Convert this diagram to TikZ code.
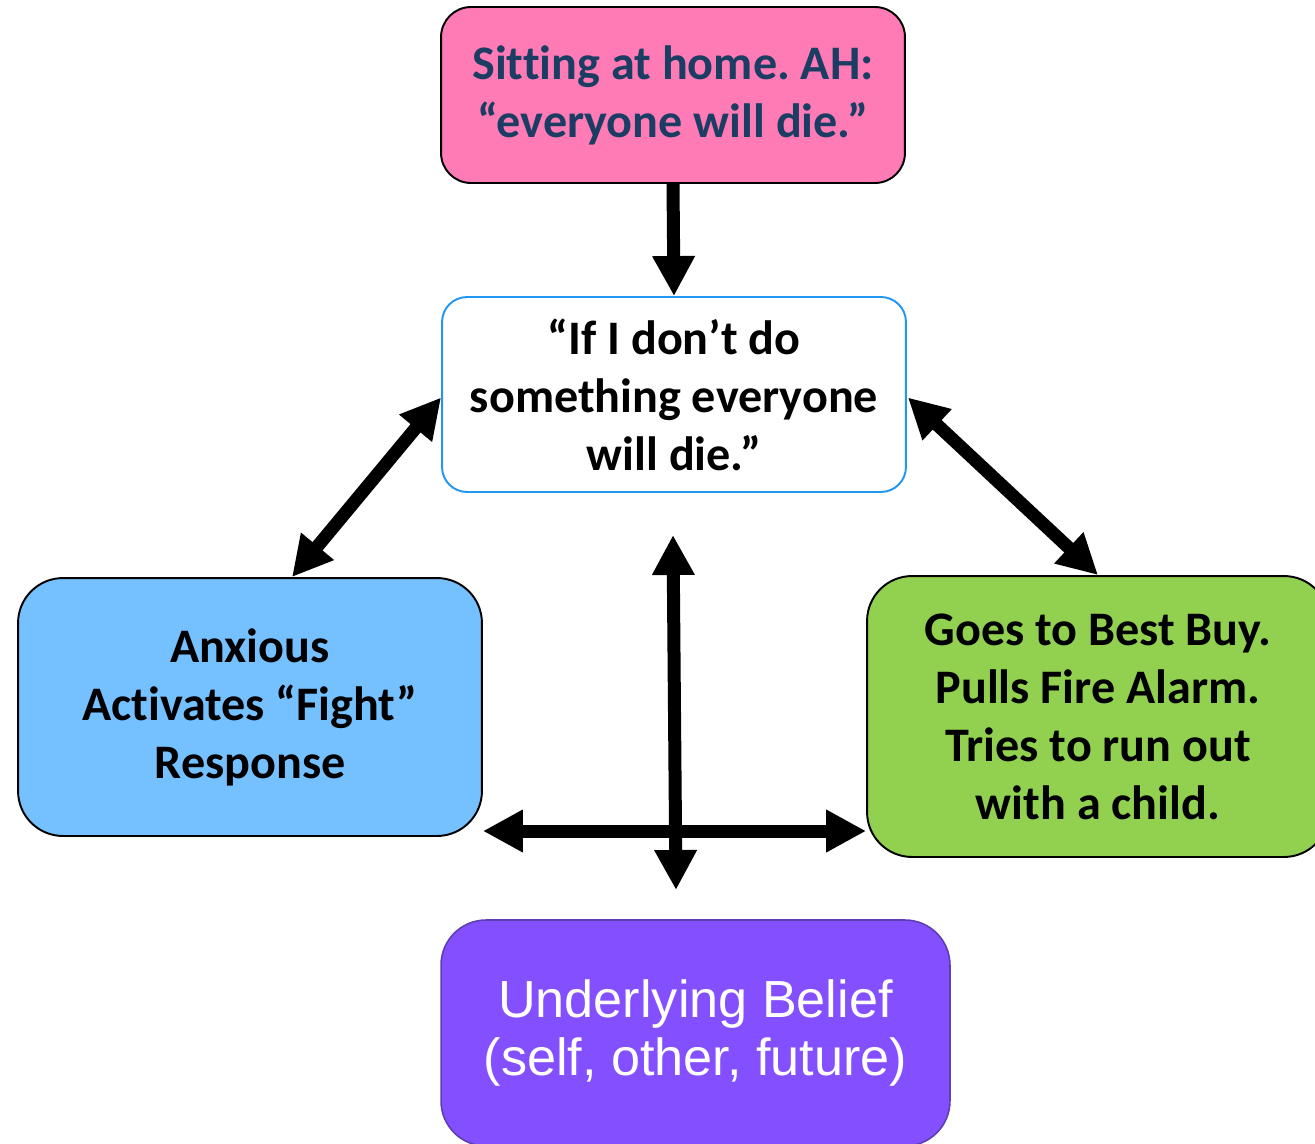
\documentclass[tikz,border=0pt]{standalone}
\usepackage{fontspec}
\setmainfont[Ligatures={TeX,NoCommon}]{Carlito}
\newfontfamily\beliefsans{Liberation Sans}
\usetikzlibrary{arrows.meta,calc}
\frenchspacing
\definecolor{pinkfill}{HTML}{FF7BB5}
\definecolor{navytext}{HTML}{1B3D63}
\definecolor{skyfill}{HTML}{75C0FF}
\definecolor{limefill}{HTML}{92D050}
\definecolor{violetfill}{HTML}{8450FF}
\definecolor{violetline}{HTML}{5E3EB5}
\definecolor{thoughtline}{HTML}{2196F3}
\begin{document}
\begin{tikzpicture}[x=0.02cm,y=-0.02cm,
  box/.style={draw=black,line width=1.1pt,align=center,inner sep=0pt,
    font=\fontsize{27.4}{33}\selectfont\bfseries},
  conn/.style={line width=0.26cm,-{Triangle[length=0.8cm,width=0.8cm]}},
  dconn/.style={line width=0.26cm,
    {Triangle[length=0.8cm,width=0.8cm]}-{Triangle[length=0.8cm,width=0.8cm]}}]
\useasboundingbox[fill=white] (0,0) rectangle (1315,1143);

% situation
\node[box,fill=pinkfill,text=navytext,rounded corners=0.6cm,
  minimum width=9.28cm,minimum height=3.52cm] (sit) at (673,95)
  {Sitting at home. AH:\\``everyone will die.''};
% automatic thought
\node[box,draw=thoughtline,fill=white,rounded corners=0.5cm,
  minimum width=9.28cm,minimum height=3.9cm] (thought) at (674,394.5)
  {``If I don't do\\something everyone\\will die.''};
% emotion
\node[box,fill=skyfill,rounded corners=0.9cm,
  minimum width=9.28cm,minimum height=5.16cm] (feel) at (250,707)
  {Anxious\\Activates ``Fight''\\Response};
% behaviour
\node[box,fill=limefill,rounded corners=0.9cm,
  minimum width=9.24cm,minimum height=5.62cm] (act) at (1098,716.5)
  {Goes to Best Buy.\\Pulls Fire Alarm.\\Tries to run out\\with a child.};
% core belief
\node[draw=violetline,line width=0.9pt,fill=violetfill,text=white,
  rounded corners=0.9cm,align=center,inner sep=0pt,
  minimum width=10.18cm,minimum height=4.52cm,
  font=\beliefsans\fontsize{29.7}{32.6}\selectfont] (belief) at (695.5,1033)
  {Underlying Belief\\(self, other, future)};

% connectors
\draw[conn] (sit.south) -- (thought.north);
\draw[dconn] (thought.west) ++(0,3) -- ([xshift=0.84cm]feel.north);
\draw[dconn] (thought.east) ++(1,3) -- (act.north);
\coordinate (vtop) at (673,535);
\coordinate (vbot) at (676,890);
\coordinate (hmid) at (675,831);
\draw[dconn] (feel.east |- hmid) -- (act.west |- hmid);
\draw[dconn] (vtop) -- (vbot);
\end{tikzpicture}
\end{document}
